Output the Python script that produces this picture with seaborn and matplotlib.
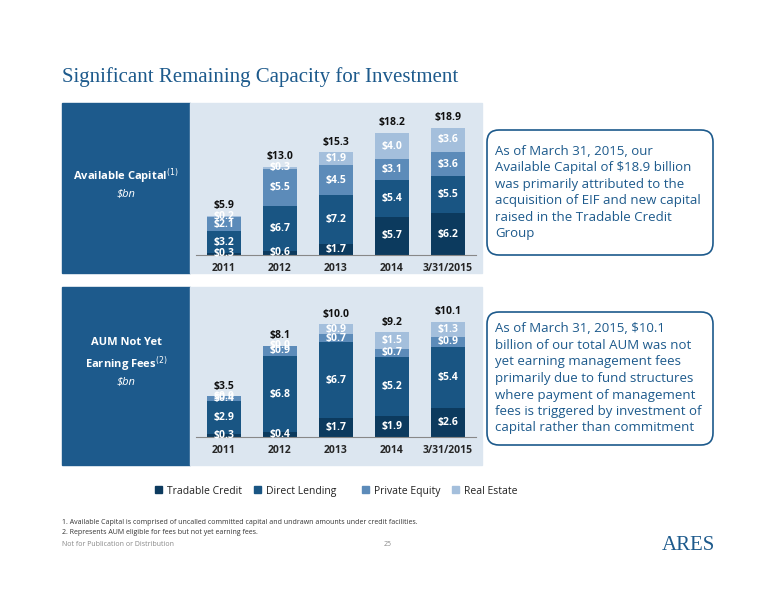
import numpy as np
import pandas as pd
import seaborn as sns
import matplotlib
matplotlib.use('Agg')
import matplotlib.pyplot as plt
from matplotlib.patches import Rectangle, FancyBboxPatch

years = ["2011", "2012", "2013", "2014", "3/31/2015"]
series = ["Tradable Credit", "Direct Lending", "Private Equity", "Real Estate"]
cap_tradable = [0.3, 0.6, 1.7, 5.7, 6.2]
cap_direct = [3.2, 6.7, 7.2, 5.4, 5.5]
cap_pe = [2.1, 5.5, 4.5, 3.1, 3.6]
cap_re = [0.2, 0.3, 1.9, 4.0, 3.6]
cap_total = [5.9, 13.0, 15.3, 18.2, 18.9]
aum_tradable = [0.3, 0.4, 1.7, 1.9, 2.6]
aum_direct = [2.9, 6.8, 6.7, 5.2, 5.4]
aum_pe = [0.4, 0.9, 0.7, 0.7, 0.9]
aum_re = [0.0, 0.0, 0.9, 1.5, 1.3]
aum_total = [3.5, 8.1, 10.0, 9.2, 10.1]

colors = ["#0c3a5e", "#195583", "#5c8bb9", "#a4bfdc"]
navy = "#1d5a8c"
panel = "#dce6f0"

sns.set_style("white")
plt.rcParams['font.family'] = ['Open Sans', 'DejaVu Sans']

W, H = 776, 600
fig = plt.figure(figsize=(7.76, 6), dpi=100)
# background layer in pixel coordinates
bg = fig.add_axes([0, 0, 1, 1], zorder=-1)
bg.set_xlim(0, W)
bg.set_ylim(H, 0)
bg.axis("off")

def fx(x): return x / W
def fy(y): return 1 - y / H

def draw_panel(top, bottom, base, stacks, totals, ymax, label, sub):
    bg.add_patch(Rectangle((62, top), 128, bottom - top, color=navy))
    bg.add_patch(Rectangle((190, top), 292, bottom - top, color=panel))
    mid = (top + bottom) / 2
    bg.text(126, mid - 2, label, color="white", fontsize=8, fontweight="bold",
            ha="center", va="bottom", linespacing=1.5)
    bg.text(126, mid + 1, sub, color="white", fontsize=8, style="italic",
            ha="center", va="top")
    ax = fig.add_axes([fx(196), fy(base), fx(280), (base - top) / H])
    ax.set_facecolor("none")
    df = pd.DataFrame({"year": years})
    bottoms = np.zeros(len(years))
    for name, vals, c in zip(series, stacks, colors):
        df["v"] = vals
        sns.barplot(data=df, x="year", y="v", color=c, bottom=bottoms, width=0.6,
                    ax=ax, saturation=1, linewidth=0)
        for i, v in enumerate(vals):
            ax.text(i, bottoms[i] + v / 2, f"${v:.1f}", ha="center", va="center",
                    color="white", fontsize=7.5, fontweight="bold")
        bottoms = bottoms + np.array(vals)
    for i, t in enumerate(totals):
        ax.text(i, bottoms[i] + ymax * 0.03, f"${t:.1f}", ha="center", va="bottom",
                fontsize=7.5, fontweight="bold", color="#111111")
    ax.set_ylim(0, ymax)
    ax.set_xlim(-0.5, 4.5)
    ax.set_xlabel("")
    ax.set_ylabel("")
    ax.set_yticks([])
    ax.tick_params(axis="x", labelsize=7.5, length=0, pad=6)
    for s in ["top", "right", "left"]:
        ax.spines[s].set_visible(False)
    ax.spines["bottom"].set_color("#888888")
    for t in ax.get_xticklabels():
        t.set_fontweight("bold")

draw_panel(103, 273, 255, [cap_tradable, cap_direct, cap_pe, cap_re], cap_total,
           22.6, "Available Capital$^{(1)}$", "$bn")
draw_panel(287, 465, 437, [aum_tradable, aum_direct, aum_pe, aum_re], aum_total,
           13.3, "AUM Not Yet\nEarning Fees$^{(2)}$", "$bn")

bg.text(62, 77, "Significant Remaining Capacity for Investment",
        family="Liberation Serif", fontsize=15, color=navy, va="center")

def callout(top, bottom, txt):
    bg.add_patch(FancyBboxPatch((487, top), 226, bottom - top,
                                boxstyle="round,pad=0,rounding_size=12",
                                facecolor="white", edgecolor=navy, linewidth=1.2))
    bg.text(495, (top + bottom) / 2, txt, fontsize=9.5, color=navy,
            va="center", linespacing=1.35)

callout(130, 255, "As of March 31, 2015, our\nAvailable Capital of $18.9 billion\n"
        "was primarily attributed to the\nacquisition of EIF and new capital\n"
        "raised in the Tradable Credit\nGroup")
callout(312, 445, "As of March 31, 2015, $10.1\nbillion of our total AUM was not\n"
        "yet earning management fees\nprimarily due to fund structures\n"
        "where payment of management\nfees is triggered by investment of\n"
        "capital rather than commitment")

lx = [155, 254, 362, 452]
for x, name, c in zip(lx, series, colors):
    bg.add_patch(Rectangle((x, 486), 7, 7, color=c))
    bg.text(x + 12, 490, name, fontsize=7.5, va="center_baseline", color="#222222")

bg.text(62, 522, "1. Available Capital is comprised of uncalled committed capital and undrawn amounts under credit facilities.",
        fontsize=5, color="#333333", va="center")
bg.text(62, 532, "2. Represents AUM eligible for fees but not yet earning fees.",
        fontsize=5, color="#333333", va="center")
bg.text(62, 545, "Not for Publication or Distribution", fontsize=5,
        color="#888888", va="center")
bg.text(388, 545, "25", fontsize=5, color="#888888", va="center", ha="center")
bg.text(715, 545, "ARES", family="Liberation Serif", fontsize=15,
        color=navy, va="center", ha="right")

fig.savefig("out.png", dpi=100)
